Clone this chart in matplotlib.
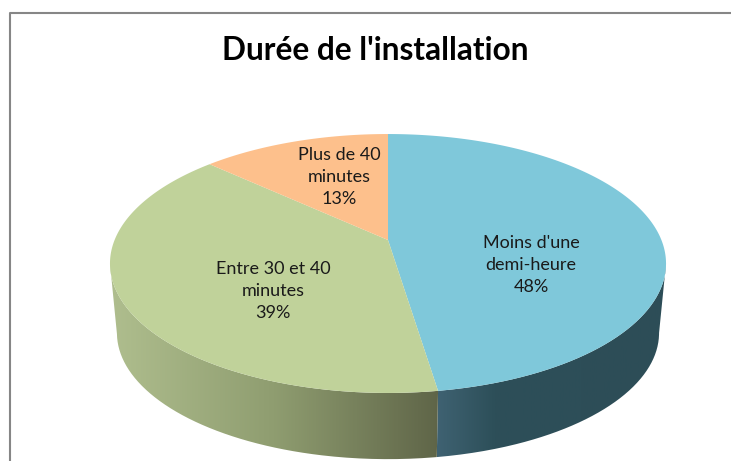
import numpy as np
import matplotlib
matplotlib.use("Agg")
import matplotlib.pyplot as plt
from matplotlib.patches import PathPatch
from matplotlib.path import Path
from matplotlib.colors import LinearSegmentedColormap

title = "Durée de l'installation"
categories = ["Moins d'une\ndemi-heure", "Entre 30 et 40\nminutes", "Plus de 40\nminutes"]
values = [47.6, 39.3, 13.1]
top_colors = ["#7fc8da", "#c0d29a", "#fdc08c"]

W, H = 731, 461
cx, apex_y = 388, 240
rx, ry, k = 273.4, 125.2, 0.1815
depth, shrink = 70, 0.975


def rim(theta, drop=0.0, scale=1.0):
    # theta clockwise from the top, projected with a bit of perspective
    u, v = np.sin(theta), np.cos(theta)
    w = 1 + k * v
    return cx + scale * rx * u / w, apex_y + drop - scale * ry * v / w


fig = plt.figure(figsize=(W / 100, H / 100), dpi=100)
ax = fig.add_axes([0, 0, 1, 1])
ax.set_xlim(0, W)
ax.set_ylim(H, 0)
ax.axis("off")

# frame
ax.plot([10, 10, W], [H, 13, 13], color="#868686", lw=1.5, solid_capstyle="butt")

fracs = np.array(values) / sum(values)
edges = np.concatenate([[0], np.cumsum(fracs)]) * 2 * np.pi


def side(t0, t1, stops):
    ts = np.linspace(t0, t1, 200)
    x0, y0 = rim(ts)
    x1, y1 = rim(ts, depth, shrink)
    xy = np.column_stack([np.r_[x0, x1[::-1]], np.r_[y0, y1[::-1]]])
    patch = PathPatch(Path(np.r_[xy, xy[:1]]), fc="none", ec="none")
    ax.add_patch(patch)
    cmap = LinearSegmentedColormap.from_list("s", stops)
    im = ax.imshow(np.linspace(0, 1, 256).reshape(1, -1), cmap=cmap, aspect="auto",
                   extent=[xy[:, 0].min(), xy[:, 0].max(), H, 0], zorder=1)
    im.set_clip_path(patch)


# only the front part of the wall is visible, up to the widest points of the rim
widest = np.arccos(-k)
side(widest, edges[1], [(0, "#3f6272"), (0.25, "#2d4f59"), (1, "#2d4d57")])
side(edges[1], 2 * np.pi - widest, [(0, "#afbe8e"), (0.5, "#8f9d70"), (1, "#5f6548")])
ax.set_xlim(0, W)
ax.set_ylim(H, 0)

# top face
for i, c in enumerate(top_colors):
    ts = np.linspace(edges[i], edges[i + 1], 200)
    x, y = rim(ts)
    ax.fill(np.r_[cx, x], np.r_[apex_y, y], color=c, lw=0, zorder=2)

font = "Lato"
ax.text(375, 50, title, ha="center", va="center", family=font, weight="bold",
        fontsize=22.8, color="black", zorder=3)

label_xy = [(531, 265), (273, 291), (339, 177)]
for (lx, ly), cat, val in zip(label_xy, categories, values):
    ax.text(lx, ly, f"{cat}\n{round(val)}%", ha="center", va="center", family=font,
            fontsize=13, color="#1a1a1a", linespacing=1.45, zorder=3)

fig.savefig("out.png", dpi=100)
